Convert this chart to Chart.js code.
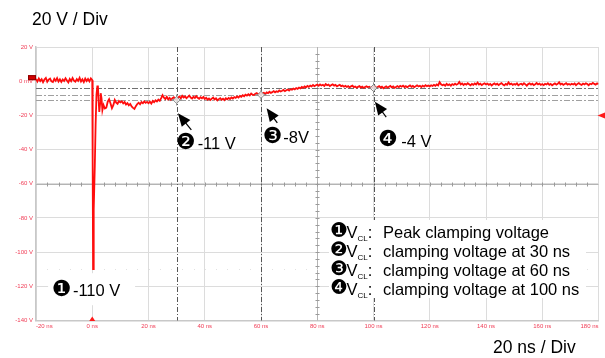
<!DOCTYPE html>
<html>
<head>
<meta charset="utf-8">
<script src="https://cdn.jsdelivr.net/npm/chart.js@4/dist/chart.umd.min.js"></script>
<style>
  html, body { margin: 0; padding: 0; background: #fff; }
  #wrap { position: relative; width: 605px; height: 358px; }
</style>
</head>
<body>
<div id="wrap"><canvas id="scope" width="605" height="358"></canvas></div>
<script>
// ---- Captured waveform (volts), sampled every 0.5 ns ----
const sampleStepNs = 0.5;

// before the trigger: -20 ns .. -0.5 ns
const preTriggerStartNs = -20;
const preTriggerV = [
  1.3, -0.2, 1.6, 0.1, 1.2, -0.6, 1.0, 1.9, -0.3, 0.9, 1.5, -0.1, -0.5, 1.4, 0.2, 1.8, -0.2, 1.1, -0.4, 1.0,
  0.1, 1.7, 0.4, -0.7, 1.3, 0.0, 1.8, 0.3, -0.3, 1.2, 0.2, 2.0, -0.2, 1.1, -0.5, 1.5, 0.1, 1.3, -0.1, 1.6
];

// the clamping transient, finer time steps
const transientT = [0, 0.15, 0.3, 0.45, 0.6, 0.9, 1.2, 1.5, 1.8, 2.0, 2.2, 2.5, 2.8, 3.0, 3.3, 3.6, 4.0];
const transientV = [0.6, -50, -110, -97, -75, -50, -25, -8, -3, -2.5, -9, -18, -13, -7, -10, -17, -14];

// settling: 4.5 ns .. 180 ns
const settleStartNs = 4.5;
const settleV = [
  -16, -15.5, -12, -10.5, -13, -15.8, -14, -11, -12.5, -13.2, -11.6,
  -12.4, -11.8, -13.0, -12.2, -13.6, -12.8, -14.1, -13.3, -14.8, -15.6, -16.2, -14.6, -13.4, -12.6, -13.5, -12.2, -12.9, -11.8, -12.7, -12.1,
  -12.9, -12.0, -13.1, -11.6, -12.3, -11.2, -11.9, -10.8, -11.5, -9.9, -8.2, -9.6, -10.4, -9.1, -10.7, -9.8, -10.9, -10.0, -9.4, -10.6,
  -10.8, -9.6, -9.0, -10.1, -8.6, -9.5, -8.9, -9.9, -9.2, -8.4, -9.6, -10.2, -9.1, -9.8, -8.8, -9.7, -10.3, -9.4, -10.0, -9.2,
  -10.4, -9.7, -10.8, -10.1, -11.0, -10.2, -9.6, -10.7, -10.0, -11.2, -10.5, -9.9, -10.9, -10.3, -11.1, -10.0, -10.6, -9.8, -10.4, -9.5,
  -10.1, -9.3, -9.8, -8.9, -9.5, -8.6, -9.1, -8.2, -8.8, -7.9, -8.4, -7.6, -8.3, -7.2, -7.9, -8.1, -7.4, -7.0, -7.8, -7.3,
  -7.9, -7.1, -6.8, -7.5, -6.6, -7.0, -6.2, -6.9, -6.4, -5.8, -6.5, -5.9, -6.3, -5.4, -6.0, -5.6, -5.1, -5.8, -5.3, -4.9,
  -5.5, -4.7, -5.0, -4.3, -4.8, -4.0, -4.5, -3.7, -4.2, -3.4, -3.9, -3.1, -3.6, -2.8, -3.3, -2.6, -3.0, -2.2, -2.9, -2.4,
  -2.0, -2.7, -1.9, -2.5, -2.1, -2.8, -1.7, -2.4, -2.0, -2.9, -2.3, -1.8, -2.6, -2.2, -3.0, -2.5, -2.1, -2.9, -2.6, -3.2,
  -2.7, -3.4, -2.9, -3.6, -3.0, -2.6, -3.5, -3.1, -3.8, -3.3, -2.9, -3.7, -3.2, -3.9, -3.4, -3.0, -3.6, -3.3, -4.0, -3.5,
  -3.6, -3.1, -3.9, -3.4, -2.9, -3.7, -3.2, -4.1, -3.5, -3.0, -3.8, -3.3, -2.8, -3.6, -3.1, -3.9, -3.4, -2.9, -3.5, -2.7,
  -3.2, -2.6, -3.4, -2.9, -3.6, -3.0, -2.5, -3.3, -2.8, -3.5, -3.0, -2.4, -3.1, -2.7, -3.4, -2.6, -3.2, -2.3, -2.9, -2.5,
  -3.0, -2.4, -2.8, -2.1, -2.7, -1.9, -2.5, -0.6, -1.8, -2.4, -2.0, -2.7, -1.6, -2.3, -1.9, -2.6, -1.7, -2.2, -1.5, -2.1,
  -1.6, -0.4, -1.9, -1.3, -2.2, -1.5, -2.0, -1.2, -1.8, -2.4, -1.6, -2.1, -1.3, -1.9, -0.8, -2.0, -1.5, -2.3, -1.7, -1.2,
  -1.9, -1.4, -2.2, -1.6, -2.5, -1.8, -1.3, -2.0, -1.5, -2.3, -1.7, -1.1, -1.9, -2.4, -1.6, -2.1, -0.7, -1.8, -1.4, -2.2,
  -1.6, -2.0, -1.3, -2.4, -1.8, -1.5, -2.1, -1.2, -1.9, -2.6, -1.7, -1.3, -2.0, -1.5, -2.3, -1.8, -1.1, -1.9, -1.4, -2.2,
  -1.7, -2.3, -1.5, -1.9, -1.2, -2.1, -1.6, -2.4, -1.8, -1.3, -2.0, -1.5, -0.6, -1.9, -1.4, -2.2, -1.7, -1.2, -2.0, -1.6,
  -2.1, -1.5, -1.9, -1.3, -2.3, -1.6, -1.1, -1.8, -2.2, -1.4, -1.9, -1.2, -1.7, -2.4, -1.5, -1.8, -1.0, -1.6, -2.0, -1.3, -1.7
];

// ---- Axis ticks ----
const timeTicksNs = [-20, 0, 20, 40, 60, 80, 100, 120, 140, 160, 180];
const timeTickLabels = ['-20 ns', '0 ns', '20 ns', '40 ns', '60 ns', '80 ns', '100 ns', '120 ns', '140 ns', '160 ns', '180 ns'];
const voltTicks = [20, 0, -20, -40, -60, -80, -100, -120, -140];
const voltTickLabels = ['20 V', '0 mV', '-20 V', '-40 V', '-60 V', '-80 V', '-100 V', '-120 V', '-140 V'];

// ---- Cursor readings ----
const peakT = 0.3;
const peakV = -110;
const cursorT = [30, 60, 100];
const cursorV = [-11, -8, -4];
const cursorBadges = ['\u2777', '\u2778', '\u2779'];
const cursorTexts = ['-11 V', '-8V', '-4 V'];

// ---- Notes ----
const noteBadges = ['\u2776', '\u2777', '\u2778', '\u2779'];
const noteTexts = ['Peak clamping voltage', 'clamping voltage at 30 ns', 'clamping voltage at 60 ns', 'clamping voltage at 100 ns'];
const scaleLabelV = '20 V / Div';
const scaleLabelT = '20 ns / Div';

// build the trace points
const trace = [];
preTriggerV.forEach((v, i) => trace.push({ x: preTriggerStartNs + i * sampleStepNs, y: v }));
transientT.forEach((t, i) => trace.push({ x: t, y: transientV[i] }));
settleV.forEach((v, i) => trace.push({ x: settleStartNs + i * sampleStepNs, y: v }));
const cursorPts = cursorT.map((t, i) => ({ x: t, y: cursorV[i] }));

// ---- Styling / layout ----
const PLOT = { top: 47, bottom: 320.5, left: 36, right: 602 };
const LABEL_RED = '#f03c55';
const TEXT_FONT = '"Liberation Sans", Arial, sans-serif';
const BADGE_FONT = '"DejaVu Sans", sans-serif';

// pixel offsets of callouts from their cursor point
const calloutLayout = [
  { tip: [1.3, 13.3], tail: [14.7, 30], badge: [9, 43], text: [21, 49] },
  { tip: [5.6, 13.4], tail: [16.3, 28.1], badge: [11.3, 42.6], text: [22.3, 48.6] },
  { tip: [1.4, 13.7], tail: [12.7, 29], badge: [14.7, 52.5], text: [27.7, 58.5] }
];
const peakLayout = { box: [-45, 4, 87, 32], badge: [-31.5, 21], text: [-20.2, 27] };
const noteLayout = { box: [329, 220, 257, 78], x: 330, y: 232, step: 19 };

function dashLine(ctx, x1, y1, x2, y2, color, dash) {
  ctx.save();
  ctx.strokeStyle = color;
  ctx.lineWidth = 1;
  ctx.setLineDash(dash);
  ctx.beginPath();
  ctx.moveTo(x1, y1);
  ctx.lineTo(x2, y2);
  ctx.stroke();
  ctx.restore();
}

function arrow(ctx, tx, ty, sx, sy) {
  const ang = Math.atan2(ty - sy, tx - sx);
  const len = 13, half = 5.5;
  ctx.save();
  ctx.strokeStyle = '#000';
  ctx.fillStyle = '#000';
  ctx.lineWidth = 1.2;
  ctx.beginPath();
  ctx.moveTo(sx, sy);
  ctx.lineTo(tx - Math.cos(ang) * len * 0.6, ty - Math.sin(ang) * len * 0.6);
  ctx.stroke();
  const bx = tx - Math.cos(ang) * len, by = ty - Math.sin(ang) * len;
  ctx.beginPath();
  ctx.moveTo(tx, ty);
  ctx.lineTo(bx + Math.sin(ang) * half, by - Math.cos(ang) * half);
  ctx.lineTo(bx - Math.sin(ang) * half, by + Math.cos(ang) * half);
  ctx.closePath();
  ctx.fill();
  ctx.restore();
}

const scopeDecor = {
  id: 'scopeDecor',
  beforeDatasetsDraw(chart) {
    const { ctx, chartArea: a, scales: { x, y } } = chart;
    ctx.save();
    // centre graticule lines with minor ticks
    const yc = Math.round(y.getPixelForValue(-60)) + 0.5;
    const xc = Math.round(x.getPixelForValue(80)) + 0.5;
    ctx.strokeStyle = '#b4b4b4';
    ctx.lineWidth = 1;
    ctx.beginPath();
    ctx.moveTo(a.left, yc); ctx.lineTo(a.right, yc);
    ctx.moveTo(xc, a.top); ctx.lineTo(xc, a.bottom);
    ctx.stroke();
    ctx.strokeStyle = '#9a9a9a';
    ctx.beginPath();
    for (let t = -16; t < 180; t += 4) {
      const px = Math.round(x.getPixelForValue(t)) + 0.5;
      ctx.moveTo(px, yc - 2); ctx.lineTo(px, yc + 2);
    }
    for (let v = 16; v > -140; v -= 4) {
      const py = Math.round(y.getPixelForValue(v)) + 0.5;
      ctx.moveTo(xc - 2, py); ctx.lineTo(xc + 2, py);
    }
    ctx.stroke();
    // faint dotted level at the peak reading
    ctx.fillStyle = '#e2e2e2';
    const yp = Math.round(y.getPixelForValue(peakV));
    for (let t = -16; t < 180; t += 4) {
      ctx.fillRect(Math.round(x.getPixelForValue(t)), yp, 1, 1);
    }
    // horizontal level cursors
    const levelColors = ['#a0a0a0', '#a0a0a0', '#707070'];
    cursorV.forEach((v, i) => {
      const py = Math.round(y.getPixelForValue(v)) + 0.5;
      dashLine(ctx, a.left, py, a.right, py, levelColors[i], [6, 2, 2, 2]);
    });
    // vertical time cursors
    cursorT.forEach(t => {
      const px = Math.round(x.getPixelForValue(t)) + 0.5;
      dashLine(ctx, px, a.top, px, a.bottom, '#555', [5, 2, 1, 2]);
    });
    ctx.restore();
  },
  afterDatasetsDraw(chart) {
    const { ctx, chartArea: a, scales: { x, y } } = chart;
    ctx.save();

    // channel reference marker, trigger position and trigger level
    const y0 = y.getPixelForValue(0);
    ctx.fillStyle = '#d40000';
    ctx.strokeStyle = '#8a0000';
    ctx.fillRect(28, y0 - 6, 8, 5);
    ctx.strokeRect(28.5, y0 - 5.5, 7, 4);
    ctx.fillStyle = '#ff1a1a';
    const xt = x.getPixelForValue(0);
    ctx.beginPath();
    ctx.moveTo(xt, a.bottom - 4); ctx.lineTo(xt - 3, a.bottom + 0.5); ctx.lineTo(xt + 3, a.bottom + 0.5);
    ctx.closePath(); ctx.fill();
    const yt = y.getPixelForValue(-20);
    ctx.beginPath();
    ctx.moveTo(a.right - 1, yt); ctx.lineTo(605, yt - 3); ctx.lineTo(605, yt + 3);
    ctx.closePath(); ctx.fill();

    // peak callout
    const px0 = x.getPixelForValue(peakT), py0 = y.getPixelForValue(peakV);
    ctx.fillStyle = '#fff';
    ctx.fillRect(px0 + peakLayout.box[0], py0 + peakLayout.box[1], peakLayout.box[2], peakLayout.box[3]);
    ctx.fillStyle = '#000';
    ctx.textBaseline = 'middle';
    ctx.textAlign = 'center';
    ctx.font = '22px ' + BADGE_FONT;
    ctx.fillText(noteBadges[0], px0 + peakLayout.badge[0], py0 + peakLayout.badge[1]);
    ctx.textBaseline = 'alphabetic';
    ctx.textAlign = 'left';
    ctx.font = '16.5px ' + TEXT_FONT;
    ctx.fillText('-110 V', px0 + peakLayout.text[0], py0 + peakLayout.text[1]);

    // cursor callouts
    cursorPts.forEach((p, i) => {
      const cx = x.getPixelForValue(p.x), cy = y.getPixelForValue(p.y);
      const L = calloutLayout[i];
      arrow(ctx, cx + L.tip[0], cy + L.tip[1], cx + L.tail[0], cy + L.tail[1]);
      ctx.fillStyle = '#000';
      ctx.textAlign = 'center';
      ctx.textBaseline = 'middle';
      ctx.font = '22px ' + BADGE_FONT;
      ctx.fillText(cursorBadges[i], cx + L.badge[0], cy + L.badge[1]);
      ctx.textAlign = 'left';
      ctx.textBaseline = 'alphabetic';
      ctx.font = '16.5px ' + TEXT_FONT;
      ctx.fillText(cursorTexts[i], cx + L.text[0], cy + L.text[1]);
    });

    // notes block
    const nb = noteLayout.box;
    ctx.fillStyle = '#fff';
    ctx.fillRect(nb[0], nb[1], nb[2], nb[3]);
    ctx.fillStyle = '#000';
    noteTexts.forEach((txt, i) => {
      const ly = noteLayout.y + i * noteLayout.step;
      let lx = noteLayout.x;
      ctx.textAlign = 'left';
      ctx.textBaseline = 'middle';
      ctx.font = '20px ' + BADGE_FONT;
      ctx.fillText(noteBadges[i], lx, ly);
      lx += ctx.measureText(noteBadges[i]).width - 1.5;
      ctx.textBaseline = 'alphabetic';
      ctx.font = '16.5px ' + TEXT_FONT;
      ctx.fillText('V', lx, ly + 6);
      lx += ctx.measureText('V').width;
      ctx.font = '8px ' + TEXT_FONT;
      ctx.fillText('CL', lx, ly + 8.5);
      lx += ctx.measureText('CL').width;
      ctx.font = '16.5px ' + TEXT_FONT;
      ctx.fillText(': ', lx, ly + 6);
      ctx.fillText(txt, 383, ly + 6);
    });

    // per-division captions
    ctx.font = '17.5px ' + TEXT_FONT;
    ctx.textBaseline = 'alphabetic';
    ctx.textAlign = 'left';
    ctx.fillText(scaleLabelV, 32, 25);
    ctx.fillText(scaleLabelT, 493, 353);
    ctx.restore();
  }
};

new Chart(document.getElementById('scope'), {
  type: 'line',
  data: {
    datasets: [
      {
        data: cursorPts, order: 0, showLine: false,
        pointStyle: 'rectRot', pointRadius: 3.5, pointBorderWidth: 1,
        pointBorderColor: '#8a8a8a', pointBackgroundColor: 'rgba(255,255,255,0.7)'
      },
      {
        data: cursorPts, order: 0, showLine: false,
        pointStyle: 'cross', pointRadius: 5.5, pointBorderWidth: 1,
        pointBorderColor: '#8a8a8a'
      },
      {
        data: trace, order: 1,
        borderColor: '#ff0d0d', borderWidth: 1.8,
        pointRadius: 0, tension: 0, fill: false
      }
    ]
  },
  options: {
    responsive: false,
    animation: false,
    devicePixelRatio: 1,
    events: [],
    layout: { padding: { top: PLOT.top, right: 605 - PLOT.right, left: 0, bottom: 358 - PLOT.bottom - 12 } },
    plugins: { legend: { display: false }, tooltip: { enabled: false }, title: { display: false } },
    scales: {
      x: {
        type: 'linear', min: -20, max: 180,
        afterBuildTicks: s => { s.ticks = timeTicksNs.map(v => ({ value: v })); },
        afterFit: s => { s.height = 12; },
        grid: { color: '#dcdcdc', drawTicks: false },
        border: { color: '#c8c8c8', width: 1.5 },
        ticks: {
          align: 'inner', padding: 2, color: LABEL_RED,
          font: { size: 6, family: TEXT_FONT },
          maxRotation: 0, autoSkip: false,
          callback: v => timeTickLabels[timeTicksNs.indexOf(v)]
        }
      },
      y: {
        min: -140, max: 20,
        afterBuildTicks: s => { s.ticks = voltTicks.map(v => ({ value: v })); },
        afterFit: s => { s.width = PLOT.left; },
        grid: { color: '#dcdcdc', drawTicks: false },
        border: { color: '#c8c8c8', width: 1.5 },
        ticks: {
          padding: 3, color: LABEL_RED,
          font: { size: 6, family: TEXT_FONT },
          autoSkip: false,
          callback: v => voltTickLabels[voltTicks.indexOf(v)]
        }
      }
    }
  },
  plugins: [scopeDecor]
});
</script>
</body>
</html>
